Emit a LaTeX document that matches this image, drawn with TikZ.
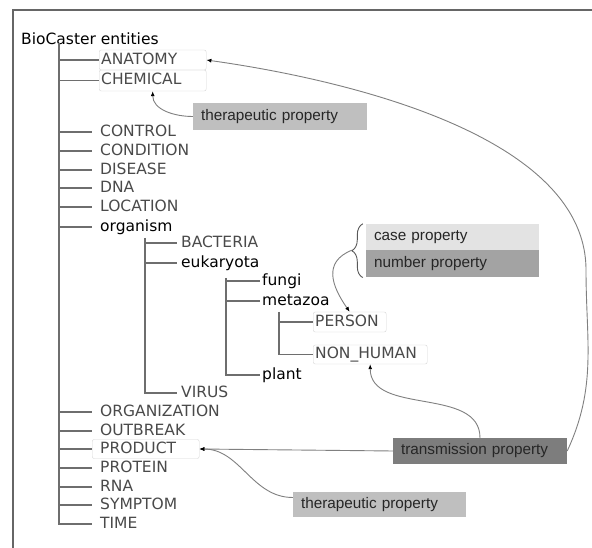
\documentclass[tikz,border=0pt]{standalone}
\usepackage{fontspec}
\setmainfont{DejaVu Sans}
\newfontfamily\propfont{Liberation Sans}
\usetikzlibrary{arrows.meta, positioning, decorations.pathreplacing}
\definecolor{linegray}{HTML}{6E6E6E}
\definecolor{textgray}{HTML}{4A4A4A}
\definecolor{boxline}{HTML}{D6D6D6}
\tikzstyle{entity}   = [anchor=west, inner xsep=8pt, inner ysep=1pt, text=textgray,
                        text height=11.3pt, text depth=3pt, font=\fontsize{15.5}{18}\selectfont]
\tikzstyle{taxon}    = [entity, text=black]
\tikzstyle{framed}   = [draw=boxline, rounded corners=2pt, inner xsep=2pt,
                        align=left, minimum height=20pt]
\tikzstyle{property} = [rectangle, minimum height=26pt, text width=158pt, inner xsep=8pt,
                        align=left, text=black!85, font=\propfont\fontsize{15.3}{18}\selectfont]
\tikzstyle{branch}   = [linegray, line width=1.2pt]
\tikzstyle{arrow}    = [gray, line width=0.9pt, -{Latex[length=5pt, width=4pt, color=black]}]
\tikzstyle{brace}    = [gray!70!black, line width=0.9pt, decorate,
                        decoration={brace, amplitude=11pt}]

\begin{document}
\begin{tikzpicture}[x=1pt, y=1pt]

  % --- Frame ---
  \fill[white] (0,0) rectangle (592,548);
  \useasboundingbox (0,0) rectangle (592,548);
  \draw[gray!80!black, line width=1.6pt] (13,0) -- (13,538) -- (592,538);

  % --- Top level ---
  \node (title) [entity, text=black, inner xsep=2pt] at (19,508) {BioCaster entities};
  \coordinate (trunk) at (59,505);
  \node (anatomy)      [entity, framed, text width=103pt] at (99,488) {ANATOMY};
  \node (chemical)     [entity, framed, text width=103pt, minimum height=21pt] at (99,467.5) {CHEMICAL};
  \node (control)      [entity] at (92,416) {CONTROL};
  \node (condition)    [entity] at (92,397) {CONDITION};
  \node (disease)      [entity] at (92,378) {DISEASE};
  \node (dna)          [entity] at (92,360) {DNA};
  \node (location)     [entity] at (92,341) {LOCATION};
  \node (organism)     [taxon]  at (92,321) {organism};
  \node (organization) [entity] at (92,136) {ORGANIZATION};
  \node (outbreak)     [entity] at (92,117) {OUTBREAK};
  \node (product)      [entity, framed, inner xsep=8pt, text width=91pt, minimum height=19pt]
                       at (92,99) {PRODUCT};
  \node (protein)      [entity] at (92,80) {PROTEIN};
  \node (rna)          [entity] at (92,61) {RNA};
  \node (symptom)      [entity] at (92,43) {SYMPTOM};
  \node (time)         [entity] at (92,24) {TIME};

  % --- Organism ---
  \coordinate (orgtrunk) at (145,310);
  \node (bacteria)  [entity, inner xsep=4pt] at (177,305) {BACTERIA};
  \node (eukaryota) [taxon, inner xsep=4pt]  at (177,285) {eukaryota};
  \node (virus)     [entity, inner xsep=4pt] at (177,155) {VIRUS};

  \coordinate (eutrunk) at (226,270);
  \node (fungi)   [taxon, inner xsep=2pt] at (260,267) {fungi};
  \node (metazoa) [taxon, inner xsep=2pt] at (260,247) {metazoa};
  \node (plant)   [taxon, inner xsep=2pt] at (260,173) {plant};

  \coordinate (metatrunk) at (279,236);
  \node (person)   [entity, framed, text width=69pt] at (313,226) {PERSON};
  \node (nonhuman) [entity, framed, text width=110pt, minimum height=19pt] at (313,193.5) {NON\_HUMAN};

  % --- Properties ---
  \node (thera1) [property, fill=gray!50, minimum height=27pt] at (280,431.5) {therapeutic property};
  \node (case)   [property, fill=gray!22, text width=157pt] at (452.5,311) {case property};
  \node (number) [property, fill=gray!72, text width=157pt, minimum height=27pt,
                  below=0pt of case] {number property};
  \node (trans)  [property, fill=gray!98!black] at (480,97) {transmission property};
  \node (thera2) [property, fill=gray!50, text width=157pt, minimum height=25pt]
                 at (379.5,43.5) {therapeutic property};

  % Tree lines
  \draw[branch] (trunk) |- (time.west)
    (trunk |- anatomy.west) -- (anatomy.west)
    (trunk |- chemical.west) -- (chemical.west)
    (trunk |- control.west) -- (control.west)
    (trunk |- condition.west) -- (condition.west)
    (trunk |- disease.west) -- (disease.west)
    (trunk |- dna.west) -- (dna.west)
    (trunk |- location.west) -- (location.west)
    (trunk |- organism.west) -- (organism.west)
    (trunk |- organization.west) -- (organization.west)
    (trunk |- outbreak.west) -- (outbreak.west)
    (trunk |- product.west) -- (product.west)
    (trunk |- protein.west) -- (protein.west)
    (trunk |- rna.west) -- (rna.west)
    (trunk |- symptom.west) -- (symptom.west);
  \draw[branch] (orgtrunk) |- (virus.west)
    (orgtrunk |- bacteria.west) -- (bacteria.west)
    (orgtrunk |- eukaryota.west) -- (eukaryota.west);
  \draw[branch] (eutrunk) |- (plant.west)
    (eutrunk |- fungi.west) -- (fungi.west)
    (eutrunk |- metazoa.west) -- (metazoa.west);
  \draw[branch] (metatrunk) |- (nonhuman.west)
    (metatrunk |- person.west) -- (person.west);

  % Brace
  \draw[brace] ([xshift=-3pt]number.south west) -- ([xshift=-3pt]case.north west);
  \coordinate (bracetip) at ([xshift=-14pt]case.south west);

  % Arrows
  \draw[arrow] (thera1.west) to[out=180, in=-90] (chemical.south);
  \draw[arrow] (bracetip) to[out=202, in=125, looseness=1.3] (person.north);
  \draw[arrow] (trans.north) to[out=90, in=-90] (nonhuman.south);
  \draw[arrow] (trans.west) -- (product.east);
  \draw[arrow] ([yshift=7pt]thera2.west) to[out=180, in=0] (product.east);
  \coordinate (bend) at (586,278);
  \draw[arrow] (trans.east) to[out=65, in=-90] (bend)
               to[out=90, in=-8, looseness=0.8] (anatomy.east);

\end{tikzpicture}
\end{document}
